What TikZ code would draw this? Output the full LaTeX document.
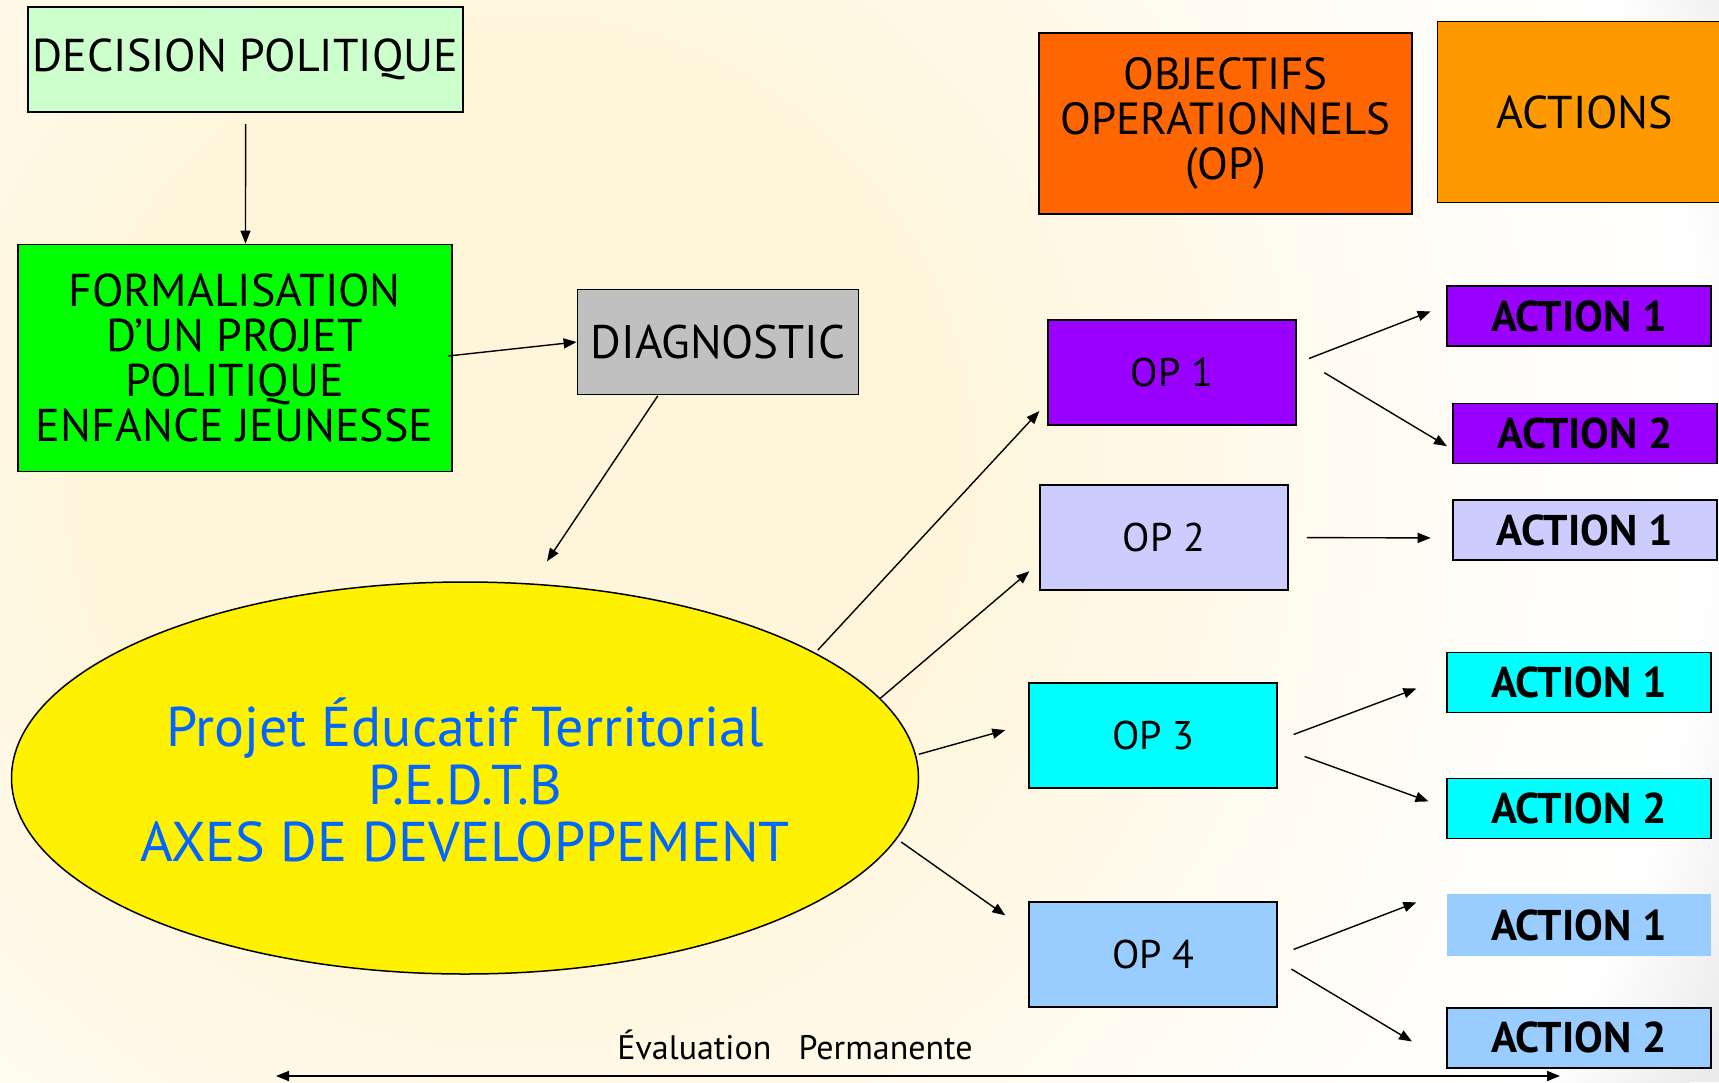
\documentclass[tikz,border=0pt]{standalone}
\usepackage{fontspec}
\setmainfont{PT Sans}
\usetikzlibrary{arrows.meta,shapes.geometric,calc}
\definecolor{cream}{RGB}{255,245,218}
\definecolor{bgedge}{RGB}{236,236,236}
\definecolor{cdec}{RGB}{204,255,204}
\definecolor{cform}{RGB}{0,255,0}
\definecolor{cdiag}{RGB}{192,192,192}
\definecolor{cobj}{RGB}{255,102,0}
\definecolor{cacts}{RGB}{255,153,0}
\definecolor{cop1}{RGB}{153,0,255}
\definecolor{cop2}{RGB}{204,204,255}
\definecolor{cop3}{RGB}{0,255,255}
\definecolor{cop4}{RGB}{153,204,255}
\definecolor{cblue}{RGB}{0,102,255}
\newcommand\myfs[2]{\fontsize{#1}{#2}\selectfont}
\pgfdeclareradialshading{bgshade}{\pgfpoint{0bp}{0bp}}{color(0bp)=(cream); color(8bp)=(cream); color(14bp)=(white!50!cream); color(20bp)=(white!90!cream); color(22.5bp)=(white); color(25bp)=(bgedge); color(50bp)=(bgedge)}
\tikzset{
  box/.style={draw=black, line width=1.8pt, inner sep=0pt, align=center, text=black},
  opbox/.style={box, minimum width=248, minimum height=105, font=\myfs{40}{44}},
  actbox/.style={box, minimum width=264, minimum height=60, font=\myfs{43}{48}\bfseries},
  conn/.style={line width=1.4pt, -{Triangle[length=13pt,width=10pt]}},
}
\begin{document}
\begin{tikzpicture}[x=1pt,y=-1pt]
\useasboundingbox (0,0) rectangle (1719,1082);
\fill[bgedge] (0,0) rectangle (1719,1082);
\begin{scope}
\clip (0,0) rectangle (1719,1082);
\shade[shading=bgshade] (520,470) circle (1320);
\end{scope}

% left column
\node[box, fill=cdec, minimum width=435, minimum height=105, font=\myfs{46}{45}] (dec) at (245.5,59.5) {DECISION POLITIQUE};
\node[box, fill=cform, minimum width=434, minimum height=227, font=\myfs{46}{45}] (form) at (234.6,358) {FORMALISATION\\D'UN PROJET\\POLITIQUE\\ENFANCE JEUNESSE};
\node[box, fill=cdiag, minimum width=281, minimum height=105, font=\myfs{47}{45}] (diag) at (718,342) {DIAGNOSTIC};
\node[ellipse, draw=black, line width=1.5pt, fill=yellow, minimum width=907, minimum height=392, inner sep=0pt] (pedt) at (465,778) {};
\node[text=cblue, align=center, font=\myfs{56}{57.5}] (pedtlab) at (465,780) {Projet Éducatif Territorial\\P.E.D.T.B\\AXES DE DEVELOPPEMENT};

% headers
\node[box, fill=cobj, minimum width=373, minimum height=181, font=\myfs{45}{45}] (obj) at (1225.6,123.3) {OBJECTIFS\\OPERATIONNELS\\(OP)};
\node[box, fill=cacts, minimum width=295, minimum height=181, font=\myfs{46}{45}] (acts) at (1585,112) {ACTIONS};

% OP boxes
\node[opbox, fill=cop1] (op1) at (1172,372.7) {OP 1};
\node[opbox, fill=cop2] (op2) at (1163.8,537.2) {OP 2};
\node[opbox, fill=cop3] (op3) at (1153.3,735.6) {OP 3};
\node[opbox, fill=cop4] (op4) at (1153.3,954.4) {OP 4};

% actions
\node[actbox, fill=cop1] (a11) at (1579,316.2) {ACTION 1};
\node[actbox, fill=cop1] (a12) at (1585.3,433.5) {ACTION 2};
\node[actbox, fill=cop2] (a21) at (1584.7,530.1) {ACTION 1};
\node[actbox, fill=cop3] (a31) at (1579,682.5) {ACTION 1};
\node[actbox, fill=cop3] (a32) at (1579,808.5) {ACTION 2};
\node[actbox, fill=cop4, draw=none, minimum height=62] (a41) at (1579,925) {ACTION 1};
\node[actbox, fill=cop4] (a42) at (1579,1037.8) {ACTION 2};

\node[font=\myfs{34}{36}] (eval) at (795,1045) {Évaluation\ \ \ Permanente};

% connector end points
\coordinate (decS) at (245.6,124);
\coordinate (formE) at (448,356);
\coordinate (diagS) at (657.8,395.8);
\coordinate (pedtN) at (547,561.3);
\coordinate (p1) at (817.8,650.1);
\coordinate (q1) at (1039.3,411.1);
\coordinate (p2) at (880.3,698.3);
\coordinate (q2) at (1029.4,571.2);
\coordinate (p3) at (918.7,754.3);
\coordinate (q3) at (1005.3,730.1);
\coordinate (p4) at (901.2,842);
\coordinate (q4) at (1005.3,915.4);
\coordinate (o11) at (1309,358.5);
\coordinate (t11) at (1430.7,311.3);
\coordinate (o12) at (1324.3,372.7);
\coordinate (t12) at (1447,446.2);
\coordinate (o21) at (1306.8,537.6);
\coordinate (t21) at (1430.7,537.9);
\coordinate (o31) at (1293.6,734.5);
\coordinate (t31) at (1416.4,688.5);
\coordinate (o32) at (1304.6,756.5);
\coordinate (t32) at (1428.5,801.4);
\coordinate (o41) at (1293.6,949.4);
\coordinate (t41) at (1416.4,902.3);
\coordinate (o42) at (1291.4,969.1);
\coordinate (t42) at (1412,1041.5);
\coordinate (evL) at (276,1076);
\coordinate (evR) at (1560,1076);

\draw[conn] (decS) -- (dec.south |- form.north);
\draw[conn] (formE) -- (diag.west);
\draw[conn] (diagS) -- (pedtN);
\draw[conn] (p1) -- (q1);
\draw[conn] (p2) -- (q2);
\draw[conn] (p3) -- (q3);
\draw[conn] (p4) -- (q4);
\draw[conn] (o11) -- (t11);
\draw[conn] (o12) -- (t12);
\draw[conn] (o21) -- (t21);
\draw[conn] (o31) -- (t31);
\draw[conn] (o32) -- (t32);
\draw[conn] (o41) -- (t41);
\draw[conn] (o42) -- (t42);
\draw[line width=1.8pt, {Triangle[length=13pt,width=10pt]}-{Triangle[length=13pt,width=10pt]}] (evL) -- (evR);
\end{tikzpicture}
\end{document}
